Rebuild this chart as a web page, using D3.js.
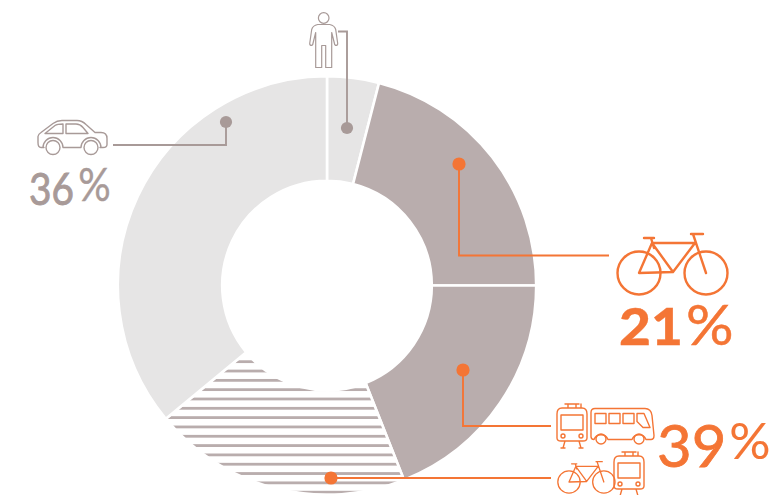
<!DOCTYPE html>
<html>
<head>
<meta charset="utf-8">
<script src="https://cdn.jsdelivr.net/npm/d3@7/dist/d3.min.js"></script>
<style>
  html, body { margin: 0; padding: 0; background: #fff; }
  svg { display: block; }
  text { font-family: Lato, sans-serif; }
</style>
</head>
<body>
<div id="chart"></div>
<script>
// Commuting modes, clockwise from twelve o'clock (share of trips, %)
const modes = ["Walking", "Cycling", "Bus and tram", "Bike and tram", "Car"];
const shares = [4, 21, 19, 20, 36];
const groupLabels = ["36", "21", "39"];

const width = 782, height = 495;
const cx = 327, cy = 285.5, outerR = 209.2, innerR = 104.8;
const GREY = "#a89a98", ORANGE = "#f47535";
const fills = ["#e6e5e5", "#b9adad", "#b9adad", "url(#stripes)", "#e6e5e5"];

const svg = d3.select("#chart").append("svg")
  .attr("width", width).attr("height", height)
  .attr("viewBox", [0, 0, width, height]);

// Horizontal hatching for the combined bike-and-tram slice
const pattern = svg.append("defs").append("pattern")
  .attr("id", "stripes").attr("patternUnits", "userSpaceOnUse")
  .attr("x", 0).attr("y", 354.4).attr("width", 20).attr("height", 9.32);
pattern.append("rect").attr("width", 20).attr("height", 2.8).attr("fill", "#b9adad");

const pie = d3.pie().sort(null).value(d => d)(shares);
const arc = d3.arc().innerRadius(innerR).outerRadius(outerR);

svg.append("g").attr("transform", `translate(${cx},${cy})`)
  .selectAll("path").data(pie).join("path")
  .attr("d", arc)
  .attr("fill", (d, i) => fills[i])
  .attr("stroke", "#fff").attr("stroke-width", 2.6);

// Callouts: a dot on the slice and an elbow line running to the icon
const callouts = [
  { color: GREY,   r: 6.1, dot: [226, 122], pts: [[226, 122], [226, 145], [113, 145]] },
  { color: GREY,   r: 6.1, dot: [347, 128], pts: [[347, 128], [347, 31.5], [338, 31.5]] },
  { color: ORANGE, r: 6.6, dot: [459, 164], pts: [[459, 164], [459, 255.5], [609, 255.5]] },
  { color: ORANGE, r: 6.6, dot: [463, 370], pts: [[463, 370], [463, 426], [551, 426]] },
  { color: ORANGE, r: 6.6, dot: [331, 478], pts: [[331, 478], [551, 478]] }
];
const line = d3.line();
const calloutG = svg.append("g").selectAll("g").data(callouts).join("g");
calloutG.append("path").attr("d", d => line(d.pts)).attr("fill", "none")
  .attr("stroke", d => d.color).attr("stroke-width", 1.9);
calloutG.append("circle").attr("cx", d => d.dot[0]).attr("cy", d => d.dot[1]).attr("r", d => d.r)
  .attr("fill", d => d.color);

// Icon outlines, each drawn in its own local coordinates
function icon(x, y, scale, color, sw) {
  return svg.append("g")
    .attr("transform", `translate(${x},${y}) scale(${scale})`)
    .attr("fill", "none").attr("stroke", color)
    .attr("stroke-width", sw / scale)
    .attr("stroke-linejoin", "round").attr("stroke-linecap", "round");
}

function drawBike(g) {
  g.append("circle").attr("cx", 0).attr("cy", 0).attr("r", 21.5);
  g.append("circle").attr("cx", 67).attr("cy", 0).attr("r", 21.5);
  g.append("path").attr("d",
    "M0,0 L13,-30 L34,-1 Z M13,-30 L56,-30 M34,-1 L56,-30 M67,0 L54,-39 " +
    "M15,-25 L12,-35 M5,-35 L15,-35 M52,-39 L64,-39");
}

function drawTram(g) {
  g.append("path").attr("d",
    "M7,6 H25 V2 M9,2 H23 M12,2 V6 M20,2 V6 " +
    "M6,6 H26 Q31,6 31,12 V36 Q31,39 27,39 H5 Q1,39 1,36 V12 Q1,6 6,6 Z " +
    "M5,13 H27 V28 H5 Z M7,46 L9,39 M25,46 L23,39 M5,46 H9 M23,46 H27");
  g.append("circle").attr("cx", 7).attr("cy", 34).attr("r", 2);
  g.append("circle").attr("cx", 25).attr("cy", 34).attr("r", 2);
}

function drawBus(g) {
  g.append("path").attr("d",
    "M0,4 Q0,0 4,0 H54 Q60,0 61,7 L63,27 Q63,31 60,31 H55 A7.5,7.5 0 0 0 41,31 H17 A7.5,7.5 0 0 0 3,31 Q0,31 0,28 Z " +
    "M4,5 H15 V15 H4 Z M18,5 H29 V15 H18 Z M32,5 H43 V15 H32 Z M46,5 H53 L59,19 H52 L46,13 Z");
  g.append("circle").attr("cx", 10).attr("cy", 30.5).attr("r", 5);
  g.append("circle").attr("cx", 48).attr("cy", 30.5).attr("r", 5);
}

// Car
const car = icon(38, 120.5, 1, GREY, 1.4);
car.append("path").attr("d",
  "M6,27 H3 Q0,27 0,22 V16 Q0,14 3,12 L15,3 Q19,0 24,0 H39 Q44,0 48,4 L57,12 H63 Q69,12 69,18 V24 Q69,27 65,27 H62 " +
  "M5,27 A10,10 0 0 1 25,27 M43,27 A10,10 0 0 1 63,27 M25,27 H43 " +
  "M7,13 L17,5 Q19,3.5 25,3.5 V13 Z M28,3.5 H38 Q42,3.5 45,7 L50,13 H28 Z");
car.append("circle").attr("cx", 15).attr("cy", 27).attr("r", 7);
car.append("circle").attr("cx", 53).attr("cy", 27).attr("r", 7);

// Person
const person = icon(323.7, 12.5, 1, GREY, 1.2);
person.append("circle").attr("cx", 0).attr("cy", 5.5).attr("r", 5.3);
person.append("path").attr("d",
  "M-6,12 H6 Q11,13 12,17 L14,31 Q14,33 12,33 L11,32 L8,20 V55 H2 V33 H-2 V55 H-8 V20 L-11,32 L-12,33 Q-14,33 -14,31 L-12,17 Q-11,13 -6,12 Z");

// Large bicycle
drawBike(icon(639, 273, 1, ORANGE, 2.4));
// Public transport group
drawTram(icon(556, 402, 1, ORANGE, 1.4));
drawBus(icon(591, 408.5, 1, ORANGE, 1.4));
drawBike(icon(569, 482, 0.52, ORANGE, 1.3));
drawTram(icon(613, 450, 1, ORANGE, 1.4));

// Percentage labels: digits and percent sign are sized independently
function pct(value, x, y, o) {
  const t = svg.append("text")
    .attr("transform", `translate(${x},${y}) scale(${o.sx},1)`)
    .attr("fill", o.color).attr("stroke", o.color)
    .attr("font-weight", o.weight).attr("font-size", o.size);
  t.append("tspan").attr("stroke-width", o.stroke).text(value);
  t.append("tspan").attr("font-size", o.pSize).attr("font-weight", o.pWeight)
    .attr("stroke-width", o.pStroke).attr("dx", o.dx).attr("dy", o.dy).text("%");
}
pct(groupLabels[0], 29, 205, { color: GREY, sx: 0.88, size: 44, pSize: 46, weight: 400, pWeight: 400, stroke: 0.9, pStroke: 0.4, dx: 5, dy: -4 });
pct(groupLabels[1], 619, 345, { color: ORANGE, sx: 1.06, size: 52, pSize: 56, weight: 900, pWeight: 400, stroke: 0.3, pStroke: 0.5, dx: 3, dy: 0 });
pct(groupLabels[2], 657, 467, { color: ORANGE, sx: 1.03, size: 58, pSize: 50, weight: 400, pWeight: 400, stroke: 0.8, pStroke: 0.1, dx: 3, dy: -8 });
</script>
</body>
</html>
